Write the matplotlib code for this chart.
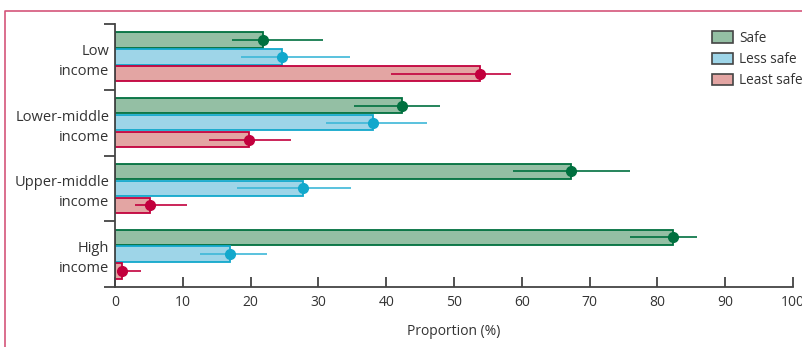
import numpy as np
import matplotlib.pyplot as plt
from matplotlib.patches import Patch
from matplotlib.lines import Line2D

plt.rcParams['font.family'] = ['Open Sans', 'DejaVu Sans']

groups = ["Low\nincome", "Lower-middle\nincome", "Upper-middle\nincome", "High\nincome"]
series = ["Safe", "Less safe", "Least safe"]

safe = [21.9, 42.4, 67.2, 82.3]
safe_lo = [17.3, 35.2, 58.7, 75.9]
safe_hi = [30.7, 47.9, 75.9, 85.8]

less_safe = [24.6, 38.0, 27.8, 17.0]
less_safe_lo = [18.6, 31.1, 18.0, 12.5]
less_safe_hi = [34.7, 46.0, 34.8, 22.4]

least_safe = [53.9, 19.8, 5.2, 1.0]
least_safe_lo = [40.7, 13.9, 2.9, 1.0]
least_safe_hi = [58.4, 25.9, 10.6, 3.8]

fills = ["#94bfa4", "#9ed5e8", "#e3a5a3"]
edges = ["#00703f", "#12a8cc", "#c2003d"]
whisk = ["#00703f", "#3db8d8", "#c2003d"]

fig = plt.figure(figsize=(8.03, 3.47), dpi=100)
ax = fig.add_axes([115 / 803, 1 - 287 / 347, (793 - 115) / 803, (287 - 24) / 347])

centers = np.array([3.5, 2.5, 1.5, 0.5])
offsets = [0.257, 0.0, -0.257]
h = 0.235

data = [(safe, safe_lo, safe_hi), (less_safe, less_safe_lo, less_safe_hi),
        (least_safe, least_safe_lo, least_safe_hi)]

for k, (vals, lo, hi) in enumerate(data):
    y = centers + offsets[k]
    vals = np.array(vals)
    ax.barh(y, vals, height=h, color=fills[k], edgecolor=edges[k], linewidth=1.3, zorder=2)
    ax.hlines(y, lo, hi, color=whisk[k], linewidth=1.2, zorder=3)
    ax.plot(vals, y, 'o', color=edges[k], markersize=7, zorder=4)

ax.set_xlim(0, 100)
ax.set_ylim(0, 4)
ax.set_xticks(np.arange(0, 101, 10))
ax.set_yticks(np.arange(0, 5))
ax.set_yticklabels([])
ax.set_yticks(centers, minor=True)
ax.set_yticklabels(groups, minor=True, fontsize=10.5, color="#333333", linespacing=1.45)
ax.tick_params(axis='y', which='minor', length=0, pad=4)
ax.tick_params(axis='y', which='major', length=8, width=1.3, direction='out', color="#444444")
ax.tick_params(axis='x', length=7, width=1.3, direction='in', color="#444444",
               labelsize=10, labelcolor="#333333", pad=6)

for s in ['top', 'right']:
    ax.spines[s].set_visible(False)
for s in ['left', 'bottom']:
    ax.spines[s].set_color("#444444")
    ax.spines[s].set_linewidth(1.3)

ax.set_xlabel("Proportion (%)", fontsize=10, color="#333333", labelpad=10)

handles = [Patch(facecolor=fills[k], edgecolor="#444444", linewidth=1.2) for k in range(3)]
fig.legend(handles, series, loc='upper left', bbox_to_anchor=(712 / 803, 1 - 31 / 347),
           frameon=False, fontsize=9.8, handlelength=1.55, handleheight=0.95,
           handletextpad=0.45, labelspacing=0.45, borderaxespad=0, borderpad=0,
           labelcolor="#333333")

# frame around the panel
fig.add_artist(Line2D([5 / 803, 5 / 803, 1.01], [-0.01, 1 - 11 / 347, 1 - 11 / 347],
                      transform=fig.transFigure, color="#d4557a", linewidth=1.2))

fig.savefig("out.png", dpi=100)
